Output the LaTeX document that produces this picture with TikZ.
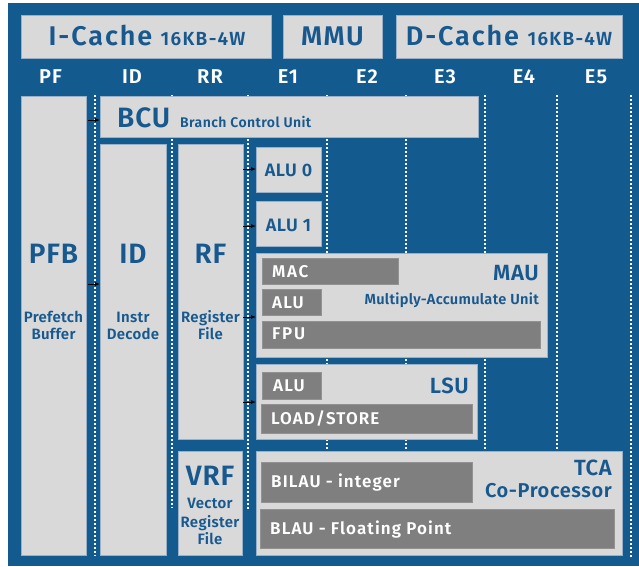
\documentclass[tikz,border=0pt]{standalone}
\usepackage{fontspec}
\setmainfont{Fira Sans}[BoldFont={Fira Sans SemiBold}]
\usetikzlibrary{arrows.meta}
\definecolor{bgblue}{HTML}{135A8F}
\definecolor{txtblue}{HTML}{17598F}
\definecolor{lgray}{HTML}{D9D9D9}
\definecolor{dgray}{HTML}{7F7F7F}
\definecolor{lborder}{HTML}{9AB0C6}
\newcommand{\fsz}[2][0]{\fontsize{#2}{#2}\selectfont\addfontfeature{LetterSpace=#1}}
\tikzset{
  lbox/.style={fill=lgray, draw=lborder, line width=0.7pt, inner sep=0, outer sep=0, anchor=north west},
  dbar/.style={fill=dgray, draw=dgray!85!white, line width=0.6pt, inner sep=0, outer sep=0, anchor=north west},
  stage/.style={text=white, font=\bfseries\fsz[5]{20}, anchor=base, inner sep=0},
  btxt/.style={text=txtblue, font=\bfseries, inner sep=0},
  wtxt/.style={text=white, font=\bfseries\fsz[6.5]{17}, anchor=base west, inner sep=0},
  stagesep/.style={white, line width=2.4pt, dash pattern=on 2.1pt off 1.9pt},
  arr/.style={-{Latex[length=5pt,width=4pt]}, black, line width=0.8pt},
}
\begin{document}
\begin{tikzpicture}[x=1pt, y=-1pt]
\useasboundingbox (0,0) rectangle (639,566);
\fill[bgblue] (8,3) rectangle (639,566);

% caches and MMU
\node[lbox, minimum width=250, minimum height=43] (icache) at (21,15) {};
\node[lbox, minimum width=99, minimum height=43] (mmu) at (283,15) {};
\node[lbox, minimum width=226, minimum height=43] (dcache) at (396,15) {};
\node[btxt, anchor=base] (icachet) at (147,45) {\fsz[7]{27}I-Cache \fsz[7]{19}16KB-4W};
\node[btxt, anchor=base] (mmut) at (332.5,45) {\fsz[5]{27}MMU};
\node[btxt, anchor=base] (dcachet) at (509,45) {\fsz[7]{27}D-Cache \fsz[7]{19}16KB-4W};

% pipeline stages
\foreach \name/\xx in {PF/50.5, ID/132, RR/210, E1/288, E2/367, E3/445, E4/524, E5/596}
  \node[stage] (st\name) at (\xx,83) {\name};

% stage boundaries
\draw[stagesep] (95,95) -- (95,556);
\draw[stagesep] (172,95) -- (172,508);
\draw[stagesep] (248,95) -- (248,509);
\draw[stagesep] (327,95) -- (327,451);
\draw[stagesep] (406,95) -- (406,451);
\draw[stagesep] (485,95) -- (485,449);
\draw[stagesep] (557,95) -- (557,449);
\draw[stagesep] (631,95) -- (631,557);

% front-end blocks
\node[lbox, minimum width=65, minimum height=459] (pfb) at (21,96) {};
\node[lbox, minimum width=378, minimum height=41] (bcu) at (100,96) {};
\node[lbox, minimum width=66, minimum height=411] (id) at (100,144) {};
\node[lbox, minimum width=65, minimum height=295] (rf) at (178,144) {};
\node[lbox, minimum width=64, minimum height=104] (vrf) at (178,451) {};

\node[btxt, anchor=base west] (bcut) at (117,127) {\fsz[3]{28}BCU};
\node[btxt, anchor=base west] (bcud) at (180,127) {\fsz[3]{14}Branch Control Unit};

\node[btxt, anchor=base] at (53.5,263) {\fsz[3]{28}PFB};
\node[btxt, anchor=base] at (53.5,322) {\fsz[2]{15}Prefetch};
\node[btxt, anchor=base] at (53.5,339) {\fsz[2]{15}Buffer};

\node[btxt, anchor=base] at (133,263) {\fsz[3]{28}ID};
\node[btxt, anchor=base] at (133,322) {\fsz[2]{15}Instr};
\node[btxt, anchor=base] at (133,339) {\fsz[2]{15}Decode};

\node[btxt, anchor=base] at (210.5,263) {\fsz[3]{28}RF};
\node[btxt, anchor=base] at (210.5,322) {\fsz[2]{15}Register};
\node[btxt, anchor=base] at (210.5,339) {\fsz[2]{15}File};

\node[btxt, anchor=base] at (210,485) {\fsz[3]{28}VRF};
\node[btxt, anchor=base] at (210,508) {\fsz[2]{15}Vector};
\node[btxt, anchor=base] at (210,527) {\fsz[2]{15}Register};
\node[btxt, anchor=base] at (210,544) {\fsz[2]{15}File};

% execution units
\node[lbox, minimum width=65, minimum height=45] (alu0) at (256,147) {};
\node[lbox, minimum width=65, minimum height=45] (alu1) at (256,201) {};
\node[btxt, anchor=base] at (288.5,176) {\fsz[3]{18}ALU 0};
\node[btxt, anchor=base] at (288.5,231) {\fsz[3]{18}ALU 1};

\node[lbox, minimum width=291, minimum height=104] (mau) at (256,253) {};
\node[dbar, minimum width=136, minimum height=26] (mac) at (262,258) {};
\node[dbar, minimum width=59, minimum height=26] (maualu) at (262,289) {};
\node[dbar, minimum width=278, minimum height=27] (fpu) at (262,321) {};
\node[wtxt] at (272,277) {\addfontfeature{LetterSpace=10}MAC};
\node[wtxt] at (272,308) {ALU};
\node[wtxt] at (272,339) {\addfontfeature{LetterSpace=10}FPU};
\node[btxt, anchor=base east] at (539,280) {\fsz[3]{22}MAU};
\node[btxt, anchor=base east] at (539,304) {\fsz[2]{14.6}Multiply-Accumulate Unit};

\node[lbox, minimum width=221, minimum height=75] (lsu) at (256,364) {};
\node[dbar, minimum width=59, minimum height=27] (lsualu) at (262,372) {};
\node[dbar, minimum width=211, minimum height=29] (ldst) at (261,404) {};
\node[wtxt] at (273,391) {ALU};
\node[wtxt] at (271,424) {LOAD/STORE};
\node[btxt, anchor=base east] at (469,393) {\fsz[3]{22}LSU};

\node[lbox, minimum width=366, minimum height=104] (tca) at (256,451) {};
\node[dbar, minimum width=211, minimum height=40] (bilau) at (261,462) {};
\node[dbar, minimum width=354, minimum height=39] (blau) at (260,509) {};
\node[wtxt] at (271,487) {BILAU - integer};
\node[wtxt] at (270,534) {BLAU - Floating Point};
\node[btxt, anchor=base east] at (612,475) {\fsz[3]{22}TCA};
\node[btxt, anchor=base east] at (612,497) {\fsz[3]{20}Co-Processor};

% issue arrows
\coordinate (ibcu) at (88,120);
\coordinate (iid) at (88,284);
\coordinate (ialu0) at (243,169);
\coordinate (ialu1) at (243,226);
\coordinate (imau) at (243,317);
\coordinate (ilsu) at (243,402);
\draw[arr] (ibcu) -- (bcu.west |- ibcu);
\draw[arr] (iid) -- (id.west |- iid);
\draw[arr] (ialu0) -- (alu0.west |- ialu0);
\draw[arr] (ialu1) -- (alu1.west |- ialu1);
\draw[arr] (imau) -- (mau.west |- imau);
\draw[arr] (ilsu) -- (lsu.west |- ilsu);
\end{tikzpicture}
\end{document}
